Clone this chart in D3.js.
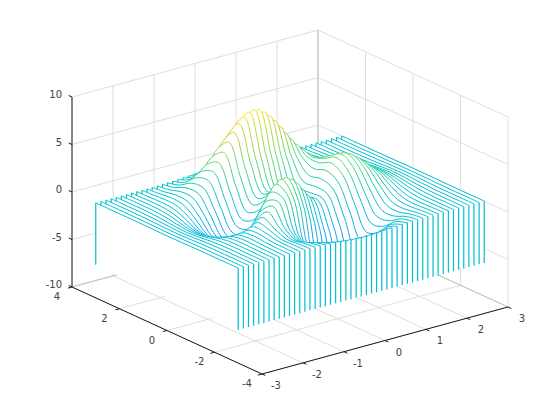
<!DOCTYPE html>
<meta charset="utf-8">
<style>
body { margin: 0; background: #fff; }
text { font: 10px "DejaVu Sans", sans-serif; fill: #404040; opacity: 0.99; }
.grid { stroke: #dedede; stroke-width: 1; fill: none; }
.back { stroke: #c4c4c4; stroke-width: 1; fill: none; }
.axis { stroke: #1a1a1a; stroke-width: 1; fill: none; }
.ribbon { fill: #fff; stroke: none; }
.trace { fill: none; stroke-width: 1; }
.drop { stroke-width: 1.2; }
</style>
<body>
<div id="main"></div>
<script src="https://d3js.org/d3.v7.min.js"></script>
<script>
var xTicks = [-3, -2, -1, 0, 1, 2, 3];
var yTicks = [-4, -2, 0, 2, 4];
var zTicks = [-10, -5, 0, 5, 10];

// one trace per x value, each runs along yValues
var xValues = [-3, -2.875, -2.75, -2.625, -2.5, -2.375, -2.25, -2.125, -2, -1.875, -1.75, -1.625, -1.5, -1.375, -1.25, -1.125,
	-1, -0.875, -0.75, -0.625, -0.5, -0.375, -0.25, -0.125, 0, 0.125, 0.25, 0.375, 0.5, 0.625, 0.75, 0.875,
	1, 1.125, 1.25, 1.375, 1.5, 1.625, 1.75, 1.875, 2, 2.125, 2.25, 2.375, 2.5, 2.625, 2.75, 2.875, 3];
var yValues = [-3, -2.5, -2, -1.5, -1, -0.5, 0, 0.5, 1, 1.5, 2, 2.5, 3];

// heights estimated by eye; parts hidden behind the big peak are best guesses from the surface shape
var zRows = [
	[0,0,0,0,-.01,-.03,-.04,-.03,-.01,0,0,0,0],
	[0,0,0,0,-.02,-.05,-.07,-.05,-.02,-.01,0,0,0],
	[0,0,0,0,-.03,-.08,-.11,-.09,-.04,-.01,0,0,0],
	[0,0,.01,0,-.04,-.13,-.19,-.15,-.07,-.01,0,0,0],
	[0,0,.01,.01,-.06,-.2,-.3,-.25,-.11,-.02,.01,0,0],
	[0,.01,.01,.01,-.08,-.3,-.46,-.38,-.17,-.03,.01,.01,0],
	[0,.01,.02,.03,-.1,-.44,-.69,-.57,-.25,-.03,.02,.01,0],
	[0,.01,.03,.05,-.12,-.61,-.98,-.82,-.36,-.03,.04,.02,0],
	[0,.02,.05,.08,-.13,-.8,-1.33,-1.12,-.48,-.01,.08,.03,.01],
	[0,.02,.06,.13,-.11,-.99,-1.73,-1.48,-.61,.03,.14,.05,.01],
	[.01,.02,.07,.19,-.04,-1.16,-2.14,-1.85,-.74,.11,.23,.08,.01],
	[.01,.02,.07,.26,.09,-1.25,-2.51,-2.21,-.83,.25,.36,.13,.02],
	[0,0,.05,.33,.3,-1.21,-2.77,-2.49,-.86,.48,.55,.19,.03],
	[0,-.02,-.02,.38,.6,-1.01,-2.86,-2.65,-.8,.81,.82,.28,.05],
	[-.01,-.07,-.13,.39,.98,-.6,-2.71,-2.64,-.6,1.27,1.16,.39,.06],
	[-.02,-.14,-.32,.33,1.42,.02,-2.3,-2.42,-.26,1.87,1.59,.52,.08],
	[-.03,-.23,-.59,.15,1.86,.8,-1.65,-2,.23,2.61,2.1,.69,.11],
	[-.05,-.37,-.97,-.18,2.23,1.66,-.82,-1.42,.83,3.45,2.68,.87,.14],
	[-.08,-.53,-1.45,-.68,2.45,2.49,.06,-.76,1.51,4.37,3.31,1.07,.17],
	[-.1,-.71,-2.01,-1.35,2.47,3.16,.88,-.12,2.18,5.31,3.95,1.27,.2],
	[-.14,-.92,-2.64,-2.18,2.22,3.55,1.48,.39,2.79,6.19,4.56,1.47,.23],
	[-.17,-1.12,-3.28,-3.12,1.72,3.6,1.78,.71,3.28,6.96,5.09,1.64,.26],
	[-.2,-1.31,-3.88,-4.07,1,3.3,1.75,.8,3.59,7.54,5.51,1.77,.28],
	[-.23,-1.46,-4.39,-4.96,.14,2.73,1.45,.69,3.72,7.89,5.77,1.86,.29],
	[-.24,-1.57,-4.76,-5.68,-.72,2,.98,.46,3.69,7.99,5.86,1.88,.3],
	[-.25,-1.62,-4.94,-6.15,-1.48,1.27,.51,.23,3.55,7.85,5.76,1.86,.29],
	[-.25,-1.6,-4.93,-6.32,-2.02,.7,.19,.09,3.34,7.48,5.5,1.77,.28],
	[-.24,-1.53,-4.72,-6.18,-2.27,.39,.13,.13,3.13,6.93,5.09,1.64,.26],
	[-.22,-1.41,-4.35,-5.76,-2.22,.39,.38,.38,2.94,6.25,4.57,1.47,.23],
	[-.2,-1.24,-3.85,-5.11,-1.92,.67,.89,.8,2.78,5.5,3.98,1.28,.2],
	[-.17,-1.06,-3.27,-4.31,-1.43,1.14,1.57,1.34,2.66,4.72,3.37,1.08,.17],
	[-.14,-.87,-2.68,-3.46,-.85,1.69,2.3,1.9,2.55,3.96,2.77,.88,.14],
	[-.11,-.69,-2.1,-2.63,-.27,2.2,2.94,2.38,2.43,3.25,2.21,.7,.11],
	[-.08,-.52,-1.59,-1.89,.22,2.57,3.38,2.7,2.28,2.61,1.71,.54,.08],
	[-.06,-.38,-1.15,-1.27,.58,2.76,3.58,2.83,2.08,2.05,1.29,.4,.06],
	[-.04,-.27,-.8,-.79,.8,2.75,3.53,2.78,1.85,1.58,.95,.29,.05],
	[-.03,-.18,-.53,-.44,.88,2.56,3.27,2.56,1.58,1.19,.68,.2,.03],
	[-.02,-.12,-.34,-.21,.86,2.25,2.86,2.23,1.3,.87,.47,.14,.02],
	[-.01,-.08,-.2,-.07,.77,1.88,2.37,1.84,1.04,.62,.32,.09,.01],
	[-.01,-.05,-.12,.01,.64,1.49,1.87,1.45,.79,.43,.21,.06,.01],
	[0,-.03,-.06,.04,.5,1.12,1.41,1.09,.58,.29,.13,.04,.01],
	[0,-.01,-.03,.05,.37,.81,1.02,.79,.41,.19,.08,.02,0],
	[0,-.01,-.01,.05,.26,.56,.7,.54,.28,.12,.05,.01,0],
	[0,0,-.01,.04,.18,.37,.47,.36,.18,.08,.03,.01,0],
	[0,0,0,.03,.11,.24,.3,.23,.11,.05,.02,0,0],
	[0,0,0,.02,.07,.15,.18,.14,.07,.03,.01,0,0],
	[0,0,0,.01,.04,.09,.11,.08,.04,.02,.01,0,0],
	[0,0,0,.01,.02,.05,.06,.05,.02,.01,0,0,0],
	[0,0,0,0,.01,.03,.03,.03,.01,0,0,0,0]
];
var zBase = -6.5;

var svg = d3.select("#main").append("svg").attr("width", 560).attr("height", 420);
var defs = svg.append("defs");

// oblique projection: each data axis adds its own pixel offset
var xToSx = d3.scaleLinear().domain([-3, 3]).range([0, 246]);
var xToSy = d3.scaleLinear().domain([-3, 3]).range([0, -67]);
var yToSx = d3.scaleLinear().domain([-4, 4]).range([0, -190]);
var yToSy = d3.scaleLinear().domain([-4, 4]).range([0, -87]);
var zToSy = d3.scaleLinear().domain([-10, 10]).range([0, -190]);
function px(x, y) { return 262 + xToSx(x) + yToSx(y); }
function py(x, y, z) { return 374 + xToSy(x) + yToSy(y) + zToSy(z); }

var color = d3.scaleLinear()
	.domain([-6.5, -3.5, -1.5, 0, 1.5, 3, 4.5, 6, 8])
	.range(["#3a5cff", "#2a8cff", "#08b0ea", "#00c0d0", "#20d0a0", "#50d880", "#c0d030", "#ffb820", "#ffee00"]);

function seg(cls, a, b) {
	svg.append("line").attr("class", cls)
		.attr("x1", px(a[0], a[1])).attr("y1", py(a[0], a[1], a[2]))
		.attr("x2", px(b[0], b[1])).attr("y2", py(b[0], b[1], b[2]));
}

// walls and floor
xTicks.forEach(function(t) {
	seg(t == 3 ? "back" : "grid", [t, 4, -10], [t, 4, 10]);
	seg("grid", [t, -4, -10], [t, 4, -10]);
});
yTicks.forEach(function(t) {
	seg(t == 4 ? "back" : "grid", [3, t, -10], [3, t, 10]);
	seg("grid", [-3, t, -10], [3, t, -10]);
});
zTicks.forEach(function(t) {
	seg("grid", [-3, 4, t], [3, 4, t]);
	seg("grid", [3, 4, t], [3, -4, t]);
});
seg("back", [-3, 4, -10], [3, 4, -10]);
seg("back", [3, 4, -10], [3, -4, -10]);

// black axes
seg("axis", [-3, 4, -10], [-3, 4, 10]);
seg("axis", [-3, 4, -10], [-3, -4, -10]);
seg("axis", [-3, -4, -10], [3, -4, -10]);

xTicks.forEach(function(t) {
	seg("axis", [t, -4, -10], [t, -4.14, -10]);
	svg.append("text").attr("x", px(t, -4) + 14).attr("y", py(t, -4, -10) + 15)
		.attr("text-anchor", "middle").text(t);
});
yTicks.forEach(function(t) {
	seg("axis", [-3, t, -10], [-3.1, t, -10]);
	svg.append("text").attr("x", px(-3, t) - 15).attr("y", py(-3, t, -10) + 13)
		.attr("text-anchor", "middle").text(t);
});
zTicks.forEach(function(t) {
	seg("axis", [-3, 4, t], [-3, 4.14, t]);
	svg.append("text").attr("x", 62).attr("y", py(-3, 4, t) + 1)
		.attr("text-anchor", "end").text(t);
});

var topLine = d3.line().curve(d3.curveCatmullRom);

// far traces first, so that each white ribbon hides what is behind it
d3.range(xValues.length - 1, -1, -1).forEach(function(i) {
	var x = xValues[i], zs = zRows[i];
	var pts = yValues.map(function(y, j) { return [px(x, y), py(x, y, zs[j])]; });
	var x0 = pts[0][0], x1 = pts[pts.length - 1][0];

	var grad = defs.append("linearGradient").attr("id", "g" + i)
		.attr("gradientUnits", "userSpaceOnUse")
		.attr("x1", x0).attr("y1", 0).attr("x2", x1).attr("y2", 0);
	pts.forEach(function(p, j) {
		grad.append("stop")
			.attr("offset", (p[0] - x0) / (x1 - x0))
			.attr("stop-color", color(zs[j]));
	});

	var g = svg.append("g");
	var bottomFront = [x0, py(x, yValues[0], zBase)];
	var bottomBack = [x1, py(x, yValues[yValues.length - 1], zBase)];
	g.append("path").attr("class", "ribbon")
		.attr("d", topLine(pts) + "L" + bottomBack + "L" + bottomFront + "Z");
	g.append("path").attr("class", "trace").attr("stroke", "url(#g" + i + ")")
		.attr("d", topLine(pts));
	g.append("line").attr("class", "drop").attr("stroke", color(zs[0]))
		.attr("x1", x0).attr("x2", x0).attr("y1", pts[0][1]).attr("y2", bottomFront[1]);
	g.append("line").attr("class", "drop").attr("stroke", color(zs[zs.length - 1]))
		.attr("x1", x1).attr("x2", x1).attr("y1", pts[pts.length - 1][1]).attr("y2", bottomBack[1]);
});
</script>
</body>
